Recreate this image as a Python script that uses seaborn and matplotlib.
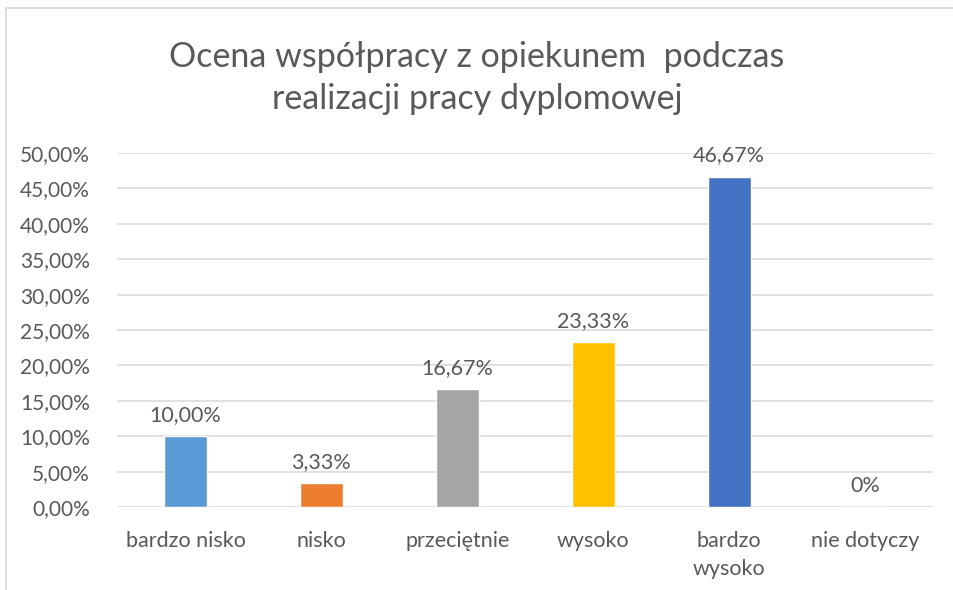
import matplotlib
matplotlib.use("Agg")
import matplotlib.pyplot as plt
import seaborn as sns
import pandas as pd
from matplotlib.patches import Rectangle

categories = ["bardzo nisko", "nisko", "przeciętnie", "wysoko", "bardzo\nwysoko", "nie dotyczy"]
values = [10.00, 3.33, 16.67, 23.33, 46.67, 0.0]
value_labels = ["10,00%", "3,33%", "16,67%", "23,33%", "46,67%", "0%"]
tick_values = [0, 5, 10, 15, 20, 25, 30, 35, 40, 45, 50]
tick_labels = ["0,00%", "5,00%", "10,00%", "15,00%", "20,00%", "25,00%",
               "30,00%", "35,00%", "40,00%", "45,00%", "50,00%"]
colors = ["#5B9BD5", "#ED7D31", "#A5A5A5", "#FFC000", "#4472C4", "#70AD47"]
title = "Ocena współpracy z opiekunem  podczas\nrealizacji pracy dyplomowej"

sns.set_theme(style="white")
plt.rcParams['font.family'] = ['Lato', 'DejaVu Sans']
text_color = "#595959"

df = pd.DataFrame({"cat": categories, "val": values})

fig = plt.figure(figsize=(9.54, 5.90), dpi=100)
W, H = 954, 590
ax = fig.add_axes([117.5 / W, 1 - 507 / H, (933 - 117.5) / W, (507 - 153) / H])

sns.barplot(data=df, x="cat", y="val", hue="cat", palette=colors, legend=False,
            width=0.316, ax=ax, saturation=1)

ax.set_ylim(0, 50)
ax.set_xlim(-0.5, 5.5)
ax.set_yticks(tick_values)
ax.set_yticklabels(tick_labels)
ax.yaxis.grid(True, color="#D9D9D9", linewidth=1.1)
ax.set_axisbelow(True)
for s in ax.spines.values():
    s.set_visible(False)
ax.tick_params(axis="y", length=0, pad=20, labelsize=15, labelcolor=text_color)
ax.tick_params(axis="x", length=0, pad=17, labelsize=15.5, labelcolor=text_color)
for t in ax.get_xticklabels():
    t.set_linespacing(1.55)
ax.set_xlabel("")
ax.set_ylabel("")

for i, (v, lab) in enumerate(zip(values, value_labels)):
    ax.annotate(lab, (i, v), xytext=(0, 8), textcoords="offset points",
                ha="center", va="bottom", fontsize=15.5, color=text_color)

fig.text(0.5, 1 - 78 / H, title, ha="center", va="center", fontsize=24.5,
         color=text_color, linespacing=1.4)

fig.patches.append(Rectangle((6 / W, -0.1), 1.2, 1 - 8 / H + 0.1, transform=fig.transFigure,
                             fill=False, edgecolor="#D9D9D9", linewidth=1.3))

fig.savefig("out.png", dpi=100)
